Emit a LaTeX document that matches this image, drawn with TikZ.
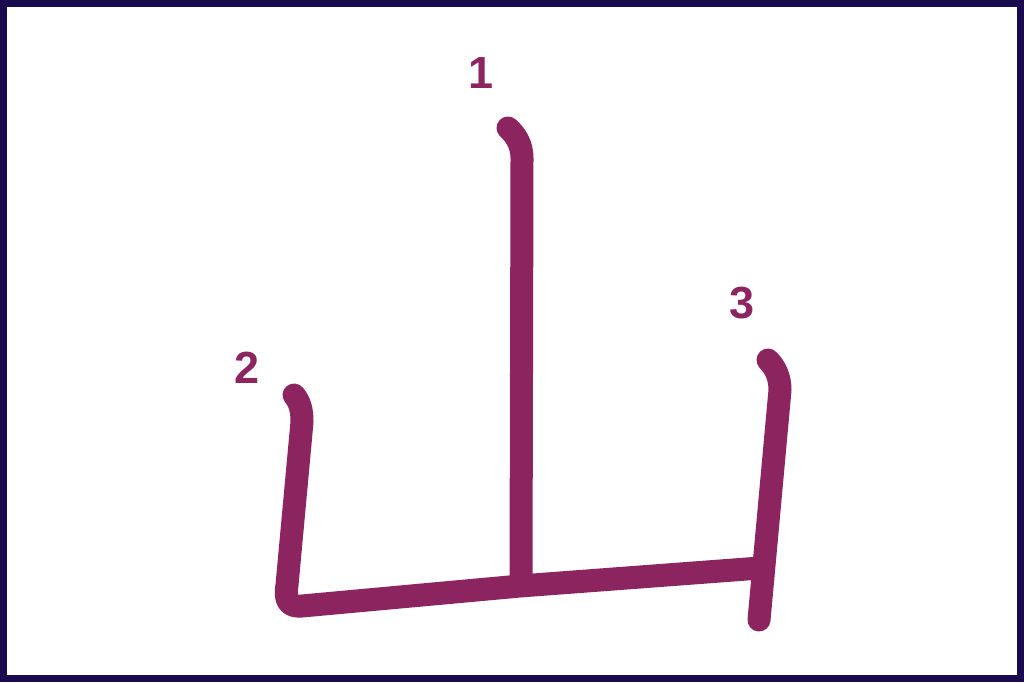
\documentclass[tikz,border=0pt]{standalone}
\usepackage{fontspec}
\setmainfont{Liberation Sans}
\definecolor{inkc}{HTML}{8C255F}
\definecolor{framec}{HTML}{1A0B4E}
\begin{document}
\begin{tikzpicture}[x=1pt,y=-1pt,
  brush/.style={draw=inkc,line width=23pt,line cap=round,line join=round},
  numlab/.style={text=inkc,font=\fontsize{45}{50}\selectfont\bfseries,inner sep=0pt}]
\useasboundingbox (0,0) rectangle (1024,682);
\fill[white] (0,0) rectangle (1024,682);
\draw[framec,line width=7pt] (3.5,3.5) rectangle (1020.5,678.5);
% labels
\node[numlab] (n1) at (481,73) {1};
\node[numlab] (n2) at (247,368) {2};
\node[numlab] (n3) at (742,303) {3};
% stroke 1
\coordinate (a1) at (508,128);
\coordinate (a2) at (522,158);
\coordinate (a3) at (521,580);
\draw[brush] (a1) .. controls (516,135) and (522,145) .. (a2) -- (a3);
% stroke 2
\coordinate (b1) at (294,395);
\coordinate (b2) at (302,422);
\coordinate (b3) at (287,585);
\coordinate (b4) at (760,568);
\draw[brush] (b1) .. controls (300,402) and (302,410) .. (b2)
  -- (b3) .. controls (284,602) and (290,607) .. (302,606) -- (520,586) -- (b4);
% stroke 3
\coordinate (c1) at (768,360);
\coordinate (c2) at (780,390);
\coordinate (c3) at (759,620);
\draw[brush] (c1) .. controls (776,368) and (780,378) .. (c2) -- (c3);
\end{tikzpicture}
\end{document}
